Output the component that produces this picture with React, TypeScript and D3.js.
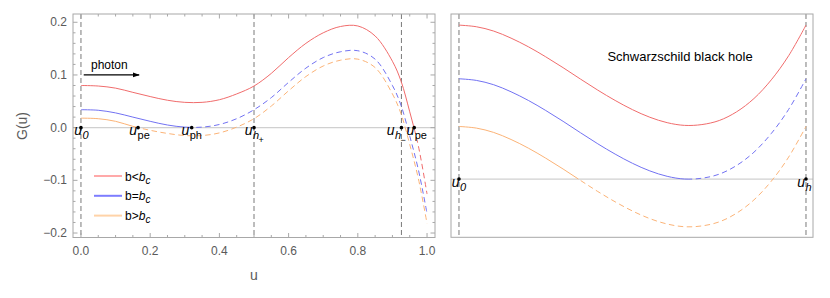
import * as d3 from "d3";

// left panel: G(u) of the hairy black hole
const uLeft = [0, 0.05, 0.1, 0.15, 0.2, 0.25, 0.3, 0.35, 0.4, 0.45, 0.5, 0.55, 0.6, 0.65, 0.7, 0.75, 0.8, 0.85, 0.9, 0.925, 0.95, 0.975, 1.0];
const gRedLeft = [0.080, 0.079, 0.075, 0.067, 0.059, 0.052, 0.048, 0.048, 0.053, 0.064, 0.079, 0.103, 0.133, 0.160, 0.180, 0.192, 0.193, 0.174, 0.126, 0.088, 0.030, -0.035, -0.126];
const gBlueLeft = [0.034, 0.033, 0.028, 0.020, 0.012, 0.005, 0.001, 0.001, 0.006, 0.017, 0.034, 0.057, 0.086, 0.113, 0.133, 0.144, 0.146, 0.130, 0.080, 0.042, -0.016, -0.080, -0.163];
const gOrangeLeft = [0.018, 0.017, 0.012, 0.0025, -0.005, -0.011, -0.015, -0.015, -0.010, 0.001, 0.017, 0.041, 0.070, 0.097, 0.117, 0.128, 0.130, 0.114, 0.064, 0.026, -0.032, -0.097, -0.182];

// right panel: Schwarzschild, u from 0 to u_h
const uRight = [0, 0.025, 0.05, 0.075, 0.1, 0.125, 0.15, 0.175, 0.2, 0.225, 0.25, 0.275, 0.3, 0.325, 0.35, 0.375, 0.4, 0.425, 0.45, 0.475, 0.5];
const gRedRight = [0.0568, 0.0562, 0.0546, 0.0520, 0.0488, 0.0451, 0.0411, 0.0369, 0.0328, 0.0290, 0.0256, 0.0228, 0.0208, 0.0198, 0.0201, 0.0216, 0.0248, 0.0297, 0.0366, 0.0455, 0.0568];
const gBlueRight = [0.0370, 0.0364, 0.0348, 0.0322, 0.0290, 0.0253, 0.0213, 0.0171, 0.0130, 0.0092, 0.0058, 0.0030, 0.0010, 0.0000, 0.0003, 0.0018, 0.0050, 0.0099, 0.0168, 0.0257, 0.0370];
const gOrangeRight = [0.0194, 0.0188, 0.0172, 0.0146, 0.0114, 0.0077, 0.0037, -0.0005, -0.0046, -0.0084, -0.0118, -0.0146, -0.0166, -0.0176, -0.0173, -0.0158, -0.0126, -0.0077, -0.0008, 0.0081, 0.0194];

// u where each curve turns from solid to dashed
const splitLeft = [0.963, 0.32, 0.166];
const splitRight = [0.6, 0.333, 0.172];

const seriesLabels = ["b<", "b=", "b>"];
const seriesColors = ["#f06c6c", "#7272f2", "#fbb377"];
const legendColors = ["#ffa9a9", "#7d7dff", "#ffd3a8"];

const xTicksLeft = [0, 0.2, 0.4, 0.6, 0.8, 1.0];
const yTicksLeft = [-0.2, -0.1, 0, 0.1, 0.2];
const vLinesLeft = [0, 0.5, 0.926];
const vLinesRight = [0, 0.5];

const pointsLeft = [
  { u: 0, sub: "0", italic: true },
  { u: 0.165, sub: "pe", italic: false },
  { u: 0.32, sub: "ph", italic: false },
  { u: 0.5, sub: "h", sub2: "+", italic: true },
  { u: 0.926, sub: "h", sub2: "\u2212", italic: true },
  { u: 0.963, sub: "pe", italic: false },
];
const pointsRight = [
  { u: 0, sub: "0", italic: true },
  { u: 0.5, sub: "h", italic: true },
];
// the u_h- label sits a little left of its point in the original
const labelShiftLeft = [1, -1, -2.5, -1.5, -7, 0];
const labelShiftRight = [0.5, -1];

const FONT = "Liberation Sans, Arial, sans-serif";
const GRAY = "#5a5a5a";

const xL = d3.scaleLinear().domain([-0.023, 1.023]).range([73, 435]);
const yL = d3.scaleLinear().domain([-0.2085, 0.2157]).range([237.5, 14]);
const xR = d3.scaleLinear().domain([-0.0115, 0.5101]).range([451, 813]);
const yR = d3.scaleLinear().domain([-0.0215, 0.0609]).range([237.3, 14]);

const fmt = d3.format(".1f");

function Curves({ id, u, series, splits, x, y }) {
  const [x0, x1] = x.range();
  const [y0, y1] = y.range();
  return (
    <g>
      {series.map((g, i) => {
        const line = d3.line<number>()
          .x((_, k) => x(u[k]))
          .y((d) => y(d))
          .curve(d3.curveCatmullRom.alpha(0.5));
        const d = line(g) || "";
        const sx = x(splits[i]);
        return (
          <g key={i}>
            <clipPath id={`${id}-s${i}`}>
              <rect x={x0} y={y1} width={Math.max(0, sx - x0)} height={y0 - y1} />
            </clipPath>
            <clipPath id={`${id}-d${i}`}>
              <rect x={sx} y={y1} width={Math.max(0, x1 - sx)} height={y0 - y1} />
            </clipPath>
            <path d={d} fill="none" stroke={seriesColors[i]} strokeWidth={1} clipPath={`url(#${id}-s${i})`} />
            <path d={d} fill="none" stroke={seriesColors[i]} strokeWidth={1} strokeDasharray="5.5,3.5" clipPath={`url(#${id}-d${i})`} />
          </g>
        );
      })}
    </g>
  );
}

function PointLabels({ pts, shifts, x, y }) {
  const y0 = y(0);
  return (
    <g fontFamily={FONT}>
      {pts.map((p, i) => {
        const px = x(p.u);
        const lx = px + shifts[i];
        return (
          <g key={i}>
            <circle cx={px} cy={y0} r={1.8} fill="#000" />
            <text x={lx} y={y0 + 7.5} textAnchor="end" fontStyle="italic" fontSize={14}>u</text>
            <text x={lx + 0.5} y={y0 + 11.5} fontSize={11} fontStyle={p.italic ? "italic" : "normal"}>{p.sub}</text>
            {p.sub2 && <text x={lx + 6} y={y0 + 15.5} fontSize={9}>{p.sub2}</text>}
          </g>
        );
      })}
    </g>
  );
}

function Frame({ x, y }) {
  const [x0, x1] = x.range();
  const [y0, y1] = y.range();
  return <rect x={x0} y={y1} width={x1 - x0} height={y0 - y1} fill="none" stroke="#a8a8a8" strokeWidth={1} />;
}

export default function App() {
  const [lx0, lx1] = xL.range();
  const [ly0, ly1] = yL.range();
  const [rx0, rx1] = xR.range();
  const [ry0, ry1] = yR.range();

  const xMinor = d3.range(0, 1.0001, 0.05).filter((v) => Math.abs(v * 5 - Math.round(v * 5)) > 1e-6);
  const yMinor = d3.range(-0.2, 0.2001, 0.02).filter((v) => Math.abs(v * 10 - Math.round(v * 10)) > 1e-6);

  return (
    <svg width={830} height={298} style={{ position: "absolute", left: 0, top: 0, background: "#fff" }}>
      {/* zero lines */}
      <line x1={lx0} x2={lx1} y1={yL(0)} y2={yL(0)} stroke="#d0d0d0" strokeWidth={1.2} />
      <line x1={rx0} x2={rx1} y1={yR(0)} y2={yR(0)} stroke="#d0d0d0" strokeWidth={1.2} />

      {/* vertical dashed markers */}
      {vLinesLeft.map((v, i) => (
        <line key={i} x1={xL(v)} x2={xL(v)} y1={ly1} y2={ly0} stroke="#7a7a7a" strokeWidth={1} strokeDasharray="5,3" />
      ))}
      {vLinesRight.map((v, i) => (
        <line key={i} x1={xR(v)} x2={xR(v)} y1={ry1} y2={ry0} stroke="#7a7a7a" strokeWidth={1} strokeDasharray="5,3" />
      ))}

      <Curves id="L" u={uLeft} series={[gRedLeft, gBlueLeft, gOrangeLeft]} splits={splitLeft} x={xL} y={yL} />
      <Curves id="R" u={uRight} series={[gRedRight, gBlueRight, gOrangeRight]} splits={splitRight} x={xR} y={yR} />

      {/* left frame ticks */}
      <g stroke="#a8a8a8" strokeWidth={1}>
        {xTicksLeft.map((t) => (
          <g key={t}>
            <line x1={xL(t)} x2={xL(t)} y1={ly0} y2={ly0 - 4.5} />
            <line x1={xL(t)} x2={xL(t)} y1={ly1} y2={ly1 + 4.5} />
          </g>
        ))}
        {xMinor.map((t) => (
          <g key={t}>
            <line x1={xL(t)} x2={xL(t)} y1={ly0} y2={ly0 - 2.5} />
            <line x1={xL(t)} x2={xL(t)} y1={ly1} y2={ly1 + 2.5} />
          </g>
        ))}
        {yTicksLeft.map((t) => (
          <g key={t}>
            <line x1={lx0} x2={lx0 + 4.5} y1={yL(t)} y2={yL(t)} />
            <line x1={lx1} x2={lx1 - 4.5} y1={yL(t)} y2={yL(t)} />
          </g>
        ))}
        {yMinor.map((t) => (
          <g key={t}>
            <line x1={lx0} x2={lx0 + 2.5} y1={yL(t)} y2={yL(t)} />
            <line x1={lx1} x2={lx1 - 2.5} y1={yL(t)} y2={yL(t)} />
          </g>
        ))}
      </g>
      <Frame x={xL} y={yL} />
      <Frame x={xR} y={yR} />

      {/* tick labels */}
      <g fontFamily={FONT} fontSize={12} fill={GRAY}>
        {xTicksLeft.map((t) => (
          <text key={t} x={xL(t)} y={255} textAnchor="middle">{fmt(t)}</text>
        ))}
        {yTicksLeft.map((t) => (
          <text key={t} x={67} y={yL(t) + 4} textAnchor="end">{fmt(t)}</text>
        ))}
      </g>
      <text x={254} y={280} textAnchor="middle" fontFamily={FONT} fontSize={14} fill={GRAY}>u</text>
      <text transform="translate(27,126) rotate(-90)" textAnchor="middle" fontFamily={FONT} fontSize={14} fill={GRAY}>G(u)</text>

      {/* photon arrow */}
      <defs>
        <marker id="arrow" viewBox="0 0 10 10" refX="9" refY="5" markerWidth="6" markerHeight="6" orient="auto">
          <path d="M0,1.5 L10,5 L0,8.5 z" fill="#000" />
        </marker>
      </defs>
      <line x1={xL(0.008)} x2={xL(0.168)} y1={yL(0.1)} y2={yL(0.1)} stroke="#000" strokeWidth={1.2} markerEnd="url(#arrow)" />
      <text x={91} y={69} fontFamily={FONT} fontSize={12}>photon</text>

      <PointLabels pts={pointsLeft} shifts={labelShiftLeft} x={xL} y={yL} />
      <PointLabels pts={pointsRight} shifts={labelShiftRight} x={xR} y={yR} />

      {/* legend */}
      <g fontFamily={FONT} fontSize={12}>
        {seriesLabels.map((s, i) => {
          const ly = 176 + i * 19.8;
          return (
            <g key={i}>
              <line x1={94} x2={122} y1={ly} y2={ly} stroke={legendColors[i]} strokeWidth={2} />
              <text x={125} y={ly + 4.5}>
                {s}
                <tspan fontStyle="italic">b</tspan>
                <tspan fontStyle="italic" fontSize={10} dy={3}>c</tspan>
              </text>
            </g>
          );
        })}
      </g>

      <text x={680} y={61} textAnchor="middle" fontFamily={FONT} fontSize={13}>Schwarzschild black hole</text>
    </svg>
  );
}
